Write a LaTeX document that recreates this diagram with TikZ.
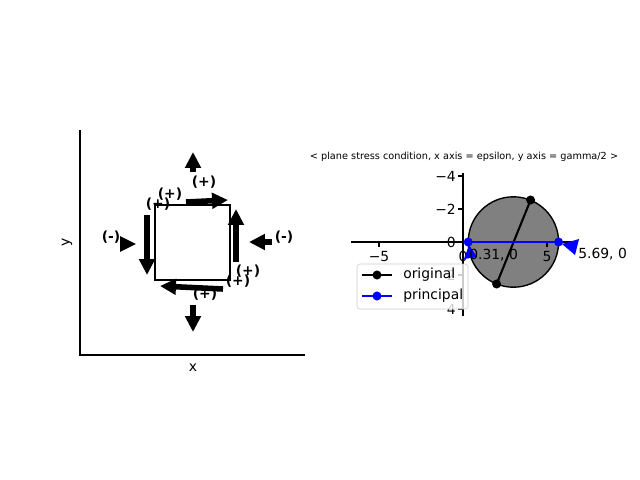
\documentclass[tikz,border=0pt]{standalone}
\usepackage{fontspec}
\setmainfont{DejaVu Sans}
\usetikzlibrary{arrows.meta}

\begin{document}
\begin{tikzpicture}[x=0.72pt, y=-0.72pt,
    every node/.style={font=\fontsize{10}{12}\selectfont, inner sep=0pt},
    sign/.style={font=\fontsize{10}{12}\selectfont\bfseries},
    force/.style={line width=4pt, -{Triangle[length=11.5pt, width=11pt]}},
    spine/.style={line width=0.8pt},
    dot/.style={circle, fill, inner sep=0pt, minimum size=6.5pt}]
    \useasboundingbox (0,0) rectangle (640,480);

    % left panel: stress element
    \draw[spine] (80,130) -- (80,355) -- (305,355);
    \node (xlab) at (193,368) {x};
    \node[rotate=90] (ylab) at (67,242) {y};
    \draw[line width=1.5pt] (155,205) rectangle (230,280);

    \draw[force] (193,172) -- (193,152);
    \draw[force] (193,305) -- (193,332);
    \draw[force] (272,242) -- (249,242);
    \draw[force, line width=1.5pt] (120,244) -- (136,244);
    \draw[force] (186,202) -- (228,200);
    \draw[force] (236,262) -- (236,209);
    \draw[force] (223,289) -- (160,286);
    \draw[force] (147,215) -- (147,275);

    \node[sign] (n1) at (204,182) {(+)};
    \node[sign] (n2) at (170,194) {(+)};
    \node[sign] (n3) at (158,204) {(+)};
    \node[sign] (n4) at (111,237) {(-)};
    \node[sign] (n5) at (284,237) {(-)};
    \node[sign] (n6) at (248,271) {(+)};
    \node[sign] (n7) at (238,281) {(+)};
    \node[sign] (n8) at (205,294) {(+)};

    % right panel: Mohr circle
    \node[font=\fontsize{7}{8}\selectfont] (title) at (464,157)
        {< plane stress condition, x axis = epsilon, y axis = gamma/2 >};
    \draw[fill=gray, line width=1pt] (513.4,242) circle[radius=45.2];
    \draw[spine] (351,242) -- (575,242);
    \draw[spine] (463,173) -- (463,316);
    \foreach \v/\lab in {379/−5, 463/0, 547/5} {
        \draw[spine] (\v,242) -- (\v,247);
        \node[anchor=north] at (\v,251) {\lab};
    }
    \foreach \v/\lab in {176/−4, 209/−2, 242/0, 275/2, 309/4} {
        \draw[spine] (463,\v) -- (458,\v);
        \node[anchor=east] at (456,\v) {\lab};
    }

    \draw[line width=1.5pt] (530.6,200) -- (496.6,284);
    \node[dot] (p1) at (530.6,200) {};
    \node[dot] (p2) at (496.6,284) {};
    \draw[blue, line width=1.5pt] (468.2,242) -- (558.6,242);
    \node[dot, blue] (q1) at (468.2,242) {};
    \node[dot, blue] (q2) at (558.6,242) {};
    \fill[blue] (469,245) -- (464,259) -- (477,257) -- cycle;
    \fill[blue] (562,244) -- (579,239) -- (575,255) -- cycle;
    \node[anchor=west] (a1) at (469,255) {0.31, 0};
    \node[anchor=west] (a2) at (578,254) {5.69, 0};

    % legend
    \draw[draw=black!20, fill=white, fill opacity=0.8, rounded corners=2pt]
        (357,264) rectangle (468,309);
    \draw[line width=1.5pt] (362,275) -- (392,275);
    \node[dot] (l1) at (377,275) {};
    \node[anchor=west] (t1) at (403,275) {original};
    \draw[blue, line width=1.5pt] (362,296) -- (392,296);
    \node[dot, blue] (l2) at (377,296) {};
    \node[anchor=west] (t2) at (403,296) {principal};
\end{tikzpicture}
\end{document}
